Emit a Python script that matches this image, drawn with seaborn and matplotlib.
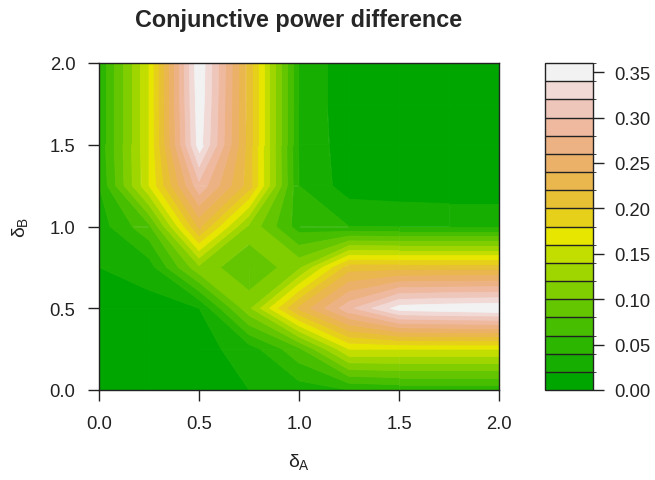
"""Conjunctive power difference - filled contour with R terrain colours"""
import colorsys
import numpy as np
import matplotlib
matplotlib.use("Agg")
import matplotlib.pyplot as plt
from matplotlib.collections import PolyCollection
from matplotlib.colors import BoundaryNorm, ListedColormap
from matplotlib.cm import ScalarMappable
import seaborn as sns

# grid of effect sizes
delta_a = [0.0, 0.25, 0.5, 0.75, 1.0, 1.25, 1.5, 1.75, 2.0]
delta_b = [0.0, 0.25, 0.5, 0.75, 1.0, 1.25, 1.5, 1.75, 2.0]

# power difference, one row per delta_b value (columns follow delta_a)
power_diff = [
    [0.000, 0.003, 0.010, 0.020, 0.030, 0.040, 0.045, 0.045, 0.045],
    [0.003, 0.010, 0.012, 0.030, 0.075, 0.160, 0.160, 0.160, 0.160],
    [0.010, 0.012, 0.020, 0.115, 0.224, 0.294, 0.350, 0.355, 0.358],
    [0.020, 0.030, 0.115, 0.080, 0.115, 0.210, 0.210, 0.210, 0.210],
    [0.030, 0.075, 0.224, 0.115, 0.050, 0.040, 0.038, 0.038, 0.038],
    [0.040, 0.160, 0.294, 0.210, 0.040, 0.010, 0.008, 0.006, 0.006],
    [0.045, 0.160, 0.350, 0.210, 0.038, 0.008, 0.003, 0.002, 0.002],
    [0.045, 0.160, 0.355, 0.210, 0.038, 0.006, 0.002, 0.001, 0.001],
    [0.045, 0.160, 0.358, 0.210, 0.038, 0.006, 0.002, 0.001, 0.000],
]

levels = [round(0.02 * k, 2) for k in range(19)]
axis_ticks = [0.0, 0.5, 1.0, 1.5, 2.0]
key_ticks = [0.0, 0.05, 0.10, 0.15, 0.20, 0.25, 0.30, 0.35]


def terrain_colors(n):
    """same as R's terrain.colors(n)"""
    k = n // 2
    cols = []
    for h, v in zip(np.linspace(4 / 12, 2 / 12, k), np.linspace(0.65, 0.9, k)):
        cols.append(colorsys.hsv_to_rgb(h, 1.0, v))
    h2 = np.linspace(2 / 12, 0, n - k + 1)[1:]
    s2 = np.linspace(1, 0, n - k + 1)[1:]
    v2 = np.linspace(0.9, 0.95, n - k + 1)[1:]
    for h, s, v in zip(h2, s2, v2):
        cols.append(colorsys.hsv_to_rgb(h, s, v))
    return cols


def band_polygons(x, y, z, lo, hi):
    """cell-by-cell polygons of lo <= z <= hi, like R's filled.contour"""
    polys = []
    for j in range(len(y) - 1):
        for i in range(len(x) - 1):
            corners = [(x[i], y[j], z[j][i]), (x[i + 1], y[j], z[j][i + 1]),
                       (x[i + 1], y[j + 1], z[j + 1][i + 1]), (x[i], y[j + 1], z[j + 1][i])]
            pts = []
            for c in range(4):
                x0, y0, z0 = corners[c]
                x1, y1, z1 = corners[(c + 1) % 4]
                if lo <= z0 <= hi:
                    pts.append((x0, y0))
                cross = []
                for lev in (lo, hi):
                    if (z0 - lev) * (z1 - lev) < 0:
                        t = (lev - z0) / (z1 - z0)
                        cross.append((t, x0 + t * (x1 - x0), y0 + t * (y1 - y0)))
                cross.sort()
                pts += [(px, py) for _, px, py in cross]
            if len(pts) >= 3:
                polys.append(pts)
    return polys


sns.set_style("ticks")
plt.rcParams['font.family'] = ['Liberation Sans', 'DejaVu Sans']
plt.rcParams['mathtext.fontset'] = 'custom'
plt.rcParams['mathtext.rm'] = 'Liberation Sans'
plt.rcParams['mathtext.it'] = 'Liberation Sans'
plt.rcParams['xtick.direction'] = 'out'
plt.rcParams['ytick.direction'] = 'out'

palette = sns.color_palette(terrain_colors(len(levels) - 1))

fig = plt.figure(figsize=(6.55, 4.81), dpi=100)
W, H = 655, 481
ax = fig.add_axes([99 / W, 1 - 391 / H, 400 / W, 327 / H])
cax = fig.add_axes([545 / W, 1 - 391 / H, 48 / W, 327 / H])

# bands painted low to high, later bands cover earlier ones in saddle cells
for k in range(len(levels) - 1):
    polys = band_polygons(delta_a, delta_b, power_diff, levels[k], levels[k + 1])
    pc = PolyCollection(polys, facecolors=palette[k], edgecolors=palette[k],
                        linewidths=0.6, zorder=1 + k * 0.01)
    ax.add_collection(pc)

ax.set_xlim(0, 2)
ax.set_ylim(0, 2)
ax.set_xticks(axis_ticks)
ax.set_yticks(axis_ticks)
ax.set_xticklabels([f"{t:.1f}" for t in axis_ticks])
ax.set_yticklabels([f"{t:.1f}" for t in axis_ticks])
ax.tick_params(axis='both', length=8, width=1, color='#222222',
               labelsize=13.3, labelcolor='#222222')
ax.tick_params(axis='x', pad=10)
ax.tick_params(axis='y', pad=9)
for sp in ax.spines.values():
    sp.set_color('#222222')
    sp.set_linewidth(1)
    sp.set_zorder(5)

ax.set_xlabel(r'$\delta_{\mathrm{A}}$', fontsize=14, labelpad=14, color='#222222')
ax.set_ylabel(r'$\delta_{\mathrm{B}}$', fontsize=14, labelpad=14, color='#222222')
ax.set_title('Conjunctive power difference', fontsize=16.8, fontweight='bold',
             pad=27)

sm = ScalarMappable(norm=BoundaryNorm(levels, len(levels) - 1),
                    cmap=ListedColormap(palette))
cb = fig.colorbar(sm, cax=cax, drawedges=True, boundaries=levels)
cb.set_ticks(key_ticks)
cb.set_ticklabels([f"{t:.2f}" for t in key_ticks])
cb.outline.set_edgecolor('#222222')
cb.outline.set_linewidth(1)
cb.dividers.set_color('#222222')
cb.dividers.set_linewidth(1)
cax.tick_params(length=8, width=1, color='#222222', labelsize=13.3,
                labelcolor='#222222', pad=7)

fig.savefig('out.png', dpi=100)
